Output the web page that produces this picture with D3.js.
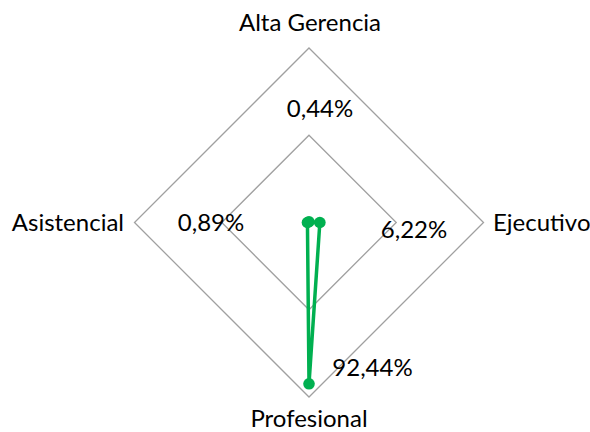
<!DOCTYPE html>
<html><head><meta charset="utf-8">
<script src="https://cdn.jsdelivr.net/npm/d3@7"></script>
<style>body{margin:0;background:#fff}svg{display:block}text{font-family:Lato,"Open Sans",sans-serif;fill:#000}</style>
</head><body><svg id="c" width="590" height="432"></svg>
<script>
const categories = ["Alta Gerencia", "Ejecutivo", "Profesional", "Asistencial"];
const values = [0.44, 6.22, 92.44, 0.89];
const valueLabels = ["0,44%", "6,22%", "92,44%", "0,89%"];
const gridLevels = [50, 100];

const svg = d3.select("#c");
const cx = 309, cy = 222.5, R = 174.5;
const r = d3.scaleLinear().domain([0, 100]).range([0, R]);
const ang = d3.scalePoint().domain(categories).range([0, 2*Math.PI*3/4]);
const pt = (c, v) => { const a = ang(c); return [cx + r(v)*Math.sin(a), cy - r(v)*Math.cos(a)]; };

const g = svg.append("g");
gridLevels.forEach(l => {
  g.append("path").attr("d", d3.line()(categories.map(c => pt(c, l))) + "Z")
    .attr("fill", "none").attr("stroke", "#a0a0a0").attr("stroke-width", 1.3);
});

g.append("path").attr("d", d3.line()(categories.map((c,i) => pt(c, values[i]))) + "Z")
  .attr("fill", "none").attr("stroke", "#00B050").attr("stroke-width", 3.5).attr("stroke-linejoin", "round");
categories.forEach((c,i) => {
  const [x,y] = pt(c, values[i]);
  g.append("circle").attr("cx", x).attr("cy", y).attr("r", 5.8).attr("fill", "#00B050");
});

// axis labels (baseline offsets from centre)
const axisPos = {
  "Alta Gerencia": {dx:1, dy:-191.5, anchor:"middle"},
  "Ejecutivo": {dx:184, dy:8, anchor:"start"},
  "Profesional": {dx:0, dy:204, anchor:"middle"},
  "Asistencial": {dx:-185, dy:8.5, anchor:"end"}
};
categories.forEach(c => {
  const p = axisPos[c];
  g.append("text").attr("x", cx + p.dx).attr("y", cy + p.dy)
    .attr("text-anchor", p.anchor).style("font-size", "24px").text(c);
});
// value labels
const valPos = [[11,-105.5],[105,15.5],[63.5,153.5],[-98,8.5]];
categories.forEach((c,i) => {
  g.append("text").attr("x", cx + valPos[i][0]).attr("y", cy + valPos[i][1])
    .attr("text-anchor", "middle").style("font-size", "24px").text(valueLabels[i]);
});
</script></body></html>
